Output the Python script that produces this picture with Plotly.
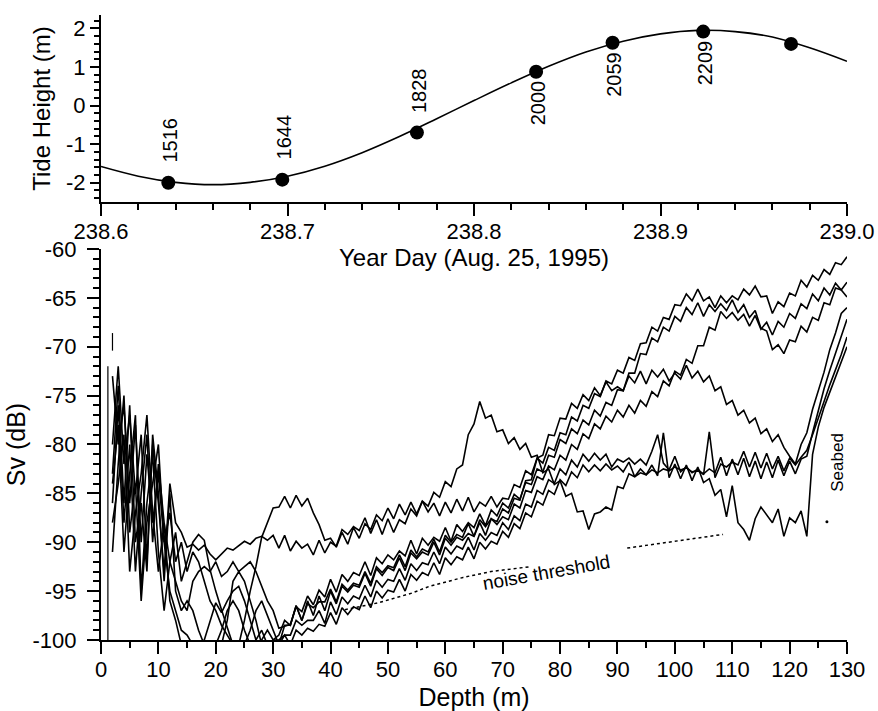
import plotly.graph_objects as go

# ---------------- Tide (top panel) ----------------
tide_day = [238.60, 238.62, 238.64, 238.66, 238.68, 238.70, 238.72, 238.74, 238.76, 238.78,
            238.80, 238.82, 238.84, 238.86, 238.88, 238.90, 238.92, 238.94, 238.96, 238.98, 239.00]
tide_height = [-1.58, -1.83, -1.99, -2.05, -1.99, -1.83, -1.57, -1.22, -0.80, -0.34,
               0.13, 0.59, 1.02, 1.39, 1.67, 1.86, 1.95, 1.92, 1.78, 1.50, 1.15]

cast_day = [238.6361, 238.6972, 238.7694, 238.8333, 238.8743, 238.9229, 238.9700]
cast_height = [-2.00, -1.92, -0.70, 0.88, 1.63, 1.92, 1.60]
cast_label = ["1516", "1644", "1828", "2000", "2059", "2209", ""]
cast_label_side = ["above", "above", "above", "below", "below", "below", "above"]

tide_x_ticks = [238.6, 238.7, 238.8, 238.9, 239.0]
tide_x_text = ["238.6", "238.7", "238.8", "238.9", "239.0"]
tide_y_ticks = [-2, -1, 0, 1, 2]
tide_y_text = ["-2", "-1", "0", "1", "2"]

# ---------------- Sv profiles (bottom panel) ----------------
depth = list(range(2, 131))

sv_a = [-73, -80, -76, -86, -78, -90, -81, -88, -83,
        -90, -87, -92, -90, -93, -91, -92, -94, -96, -97,
        -98.5, -99.5, -100.5, -100.5, -98, -95, -92.5, -89.5, -88, -86.5,
        -86.4, -85.3, -86.5, -85.2, -86.3, -85.5, -87, -88.2, -89.8, -89.6,
        -90.5, -89, -90.2, -88.5, -89.6, -88.1, -88.7, -87.2, -87.8, -86.5,
        -87.6, -86.1, -87.2, -85.9, -87.1, -85.8, -86.9, -86, -87.3, -85.9,
        -87, -85.6, -86.8, -85.4, -86.9, -85.9, -86.3, -85.3, -86.4, -85.5,
        -85.6, -84.1, -84.4, -82.7, -83.1, -81.4, -81.9, -80.3, -80.6, -78.8,
        -79, -77.2, -77.6, -76, -76.3, -74.8, -75.1, -73.5, -73.8, -72.4,
        -72.7, -71.1, -71.4, -69.7, -69.6, -68, -68.4, -67, -67.2, -65.7,
        -65.8, -64.6, -65.3, -64.1, -65.3, -64.9, -66, -64.8, -65.5, -64.8,
        -65.2, -64.1, -64.7, -63.8, -64.9, -64.8, -66.6, -65.4, -65.9, -64.5,
        -64.8, -63.2, -63.9, -62.7, -63.2, -62.1, -62.6, -61.4, -61.6, -60.8]

sv_b = [-86, -76, -88, -80, -93, -85, -79, -90, -82,
        -88, -92, -94, -96, -97, -94, -93, -92.5, -93, -92,
        -93.5, -93, -92, -93, -92.5, -92, -93, -94.5, -96, -97,
        -98.8, -98.6, -98.4, -96.6, -97.1, -95.5, -96.4, -94.9, -95.6, -93.8,
        -95.1, -93.3, -94, -93.1, -93.4, -92, -93.4, -91.6, -92.2, -91.3,
        -91.8, -90.9, -91.4, -89.8, -91.2, -89.6, -90.3, -89.5, -89.9, -88.5,
        -89.9, -88.2, -88.9, -88, -88.5, -87.1, -88.3, -86.7, -87.3, -86,
        -86.5, -85.1, -85.6, -83.9, -84.1, -82.5, -82.8, -81.1, -81.3, -79.5,
        -79.9, -78.4, -78.9, -77.5, -78, -76.5, -77.1, -75.7, -76, -74.4,
        -74.5, -72.7, -72.7, -70.7, -70.8, -69.1, -69.5, -68, -68.4, -66.9,
        -67.4, -66, -66.7, -65.5, -66.9, -65.7, -66.4, -65.6, -66.3, -65.2,
        -66.5, -65.7, -67, -66.3, -68.1, -68.4, -70.3, -69.8, -70.7, -69.3,
        -69.5, -67.9, -68.5, -67, -67.3, -65.5, -65.7, -64, -64.2, -64.9]

sv_c = [-84, -78, -91, -83, -77, -95, -86, -81, -91,
        -97, -92, -89, -94, -92, -90, -89.2, -89.8, -92.8, -95,
        -96.9, -98.6, -100.5, -100.5, -100.5, -99, -97, -96, -97.5, -99,
        -100.5, -98.5, -98.5, -96.5, -98, -96, -97.5, -95.5, -97, -95,
        -96.3, -94.5, -95.1, -94.4, -94.6, -93.2, -94.5, -92.7, -93.4, -92.6,
        -92.9, -91.6, -92.9, -91.1, -91.7, -91, -91.3, -90, -91.3, -89.6,
        -90.3, -89.5, -89.8, -89.1, -89.4, -88, -89.3, -87.6, -88.2, -87.4,
        -87.7, -86.1, -86.5, -84.7, -84.9, -83.3, -83.6, -82.2, -82.6, -81.1,
        -81.6, -80, -80.5, -78.9, -79.4, -77.9, -78.4, -77.1, -77.7, -76.5,
        -77.2, -76, -76.8, -75.5, -76.1, -74.6, -75.1, -73.5, -74, -72.5,
        -72.9, -71.3, -71.7, -69.9, -69.9, -68, -68.3, -66.4, -67.1, -66.5,
        -67.3, -66.7, -67.9, -66.8, -68.2, -67.5, -68.8, -67.4, -68, -66.6,
        -67.1, -65.6, -66.1, -64.6, -65.3, -64, -64.7, -63.5, -64.2, -63.4]

sv_d = [-91, -82, -75, -89, -84, -96, -88, -84, -80,
        -90, -95, -97, -99, -99.5, -100.5, -100.5, -100.5, -100.5, -100.5,
        -100.5, -98, -94, -93, -94, -96, -98, -100.5, -100.5, -100,
        -99.5, -98, -98.5, -96.5, -98, -96.3, -96.7, -96.1, -96.1, -94.8,
        -96.1, -94.3, -94.9, -94.2, -94.4, -93, -94.2, -92.5, -93.1, -92.4,
        -92.6, -91.3, -92.5, -90.8, -91.5, -90.7, -91, -89.7, -91, -89.3,
        -90, -89.2, -89.5, -88.1, -89.4, -87.7, -88.4, -87.6, -87.9, -86.6,
        -87, -85.5, -85.7, -83.7, -83.6, -81.4, -81.1, -79, -79.1, -77.3,
        -77.4, -75.8, -76.3, -74.9, -75.5, -74.2, -75, -73.6, -74.5, -74.1,
        -74.5, -73, -73.7, -72.5, -73.8, -72.4, -73.1, -72.3, -73.5, -72.7,
        -73.3, -71.9, -73.2, -72.5, -73.6, -73, -74.5, -74.1, -75.9, -75.5,
        -77, -76.5, -77.8, -77.3, -78.9, -78.4, -79.7, -79, -80.3, -81.2,
        -82, -80, -78.8, -76.4, -74.4, -72.6, -70.3, -68.6, -66.6, -66]

sv_e = [-80, -72, -82, -77, -85, -79, -92, -80, -86,
        -93, -84, -88, -89, -90.5, -90.2, -90.8, -90.3, -91.2, -91.8,
        -91.2, -90.6, -90.8, -90.3, -89.9, -90.2, -89.6, -89.4, -89.8, -89.3,
        -90.6, -89.3, -90.9, -89.9, -90.6, -90.2, -91.3, -89.8, -91.1, -90,
        -90.4, -88.7, -89.2, -88.4, -88.8, -87.5, -89.1, -87.7, -89.2, -87.6,
        -89, -87.7, -88.1, -86.6, -87.3, -85.8, -86.3, -84.9, -85.4, -83.8,
        -84.3, -82.5, -82.1, -79, -77.9, -75.6, -77.3, -77, -78.7, -78.5,
        -79.9, -79.3, -80.5, -79.9, -81.3, -81.1, -82.9, -82.5, -84.1, -83.7,
        -85.3, -85, -86.9, -86.8, -88.7, -87.1, -86.9, -86.4, -86.7, -84.3,
        -84.5, -83, -83.3, -82.9, -83.1, -82.6, -82.9, -82.5, -82.7, -82.3,
        -82.6, -82.4, -82.8, -82.7, -83, -82.5, -82.9, -81.3, -83.2, -81.5,
        -83.1, -81.4, -83.3, -81.7, -83.5, -81.8, -83.4, -81.6, -83.2, -81.7,
        -83, -81.5, -81.2, -78.8, -76.5, -74.3, -72.4, -70.6, -68.9, -67.2]

sv_f = [-88, -84, -79, -93, -87, -83, -77, -87, -93,
        -88, -96, -98, -100.5, -100.5, -100.5, -100.5, -100, -98, -96.2,
        -97.2, -96, -95, -94.5, -96, -98, -100, -99, -100.5, -100,
        -100, -99.5, -99.5, -98, -98.5, -98, -98, -97, -98.3, -96.1,
        -97.4, -95.6, -96.3, -95.5, -95.8, -94.4, -95.6, -93.9, -94.6, -93.8,
        -94, -92.7, -93.9, -92.2, -92.9, -92.1, -92.3, -91, -92.2, -90.5,
        -91.2, -90.4, -90.7, -89.5, -90.8, -89.1, -89.8, -89, -89.3, -88,
        -88.7, -87.3, -87.8, -86.1, -86.4, -84.7, -85.1, -83.6, -84, -82.5,
        -83.1, -81.6, -82.3, -81, -81.7, -80.9, -81.6, -81, -82.3, -81.5,
        -81.8, -81.4, -82, -81.5, -82.1, -80.7, -79, -81.9, -82.6, -81.2,
        -82.8, -82.3, -82.9, -82.5, -83.1, -78.7, -83.4, -82, -82.3, -81.8,
        -82.1, -80.7, -82.3, -80.8, -82.4, -80.9, -82.5, -81.2, -82.7, -81.4,
        -82.1, -81.3, -80.6, -79, -77.2, -75.6, -73.9, -72.4, -70.8, -69]

sv_g = [-83, -74, -86, -76, -90, -86, -93, -79, -85,
        -94, -85, -95, -97, -96, -97, -99, -100.5, -100.5, -100.5,
        -99, -97, -96, -97, -99, -100.5, -100.5, -100, -99, -100,
        -100.5, -99.5, -100.5, -99, -99.5, -98.8, -99.1, -98.4, -98.6, -97.2,
        -98.4, -96.7, -97.4, -96.6, -96.9, -95.5, -96.7, -95, -95.7, -94.9,
        -95.1, -93.8, -95, -93.3, -93.9, -93.1, -93.4, -92.1, -93.3, -91.6,
        -92.3, -91.5, -91.8, -90.5, -91.7, -90, -90.7, -89.9, -90.2, -88.9,
        -89.5, -88.1, -88.6, -87, -87.4, -85.8, -86.2, -84.7, -85.1, -83.6,
        -84.2, -82.8, -83.4, -82.1, -82.8, -82.1, -82.7, -82, -82.6, -82.2,
        -82.8, -81.8, -83.3, -82.5, -83.1, -82.1, -83.2, -78.8, -83.4, -82,
        -83.5, -82.1, -83.7, -82.3, -83.9, -83.5, -85.2, -84.6, -87.4, -84.2,
        -88, -88.7, -89.8, -87.6, -86.4, -87.2, -88, -86.6, -89.4, -87.5,
        -88, -86.8, -89.4, -81, -78.2, -76.2, -74.6, -73, -71.5, -70]

profiles = [sv_a, sv_b, sv_c, sv_d, sv_e, sv_f, sv_g]
for p in profiles:
    assert len(p) == len(depth), len(p)

# near-surface vertical trace fragments
spike_depth = [1.2, 1.2, None, 2.0, 2.0]
spike_sv = [-100, -72, None, -68.6, -70.4]

# noise threshold (dotted)
noise_depth = [42.5, 48.3, 54.2, 57.3, 63.1, 68.0, 74.8, None, 91.7, 100.0, 108.4]
noise_sv = [-96.9, -96.2, -95.2, -94.5, -93.6, -93.0, -92.5, None, -90.6, -89.9, -89.2]
noise_dot_depth = [126.5]
noise_dot_sv = [-87.9]

depth_ticks = list(range(0, 131, 10))
depth_text = [str(v) for v in depth_ticks]
sv_ticks = [-100, -95, -90, -85, -80, -75, -70, -65, -60]
sv_text = ["-100", "-95", "-90", "-85", "-80", "-75", "-70", "-65", "-60"]

FONT = "Liberation Sans, Arial, Helvetica, sans-serif"
BLACK = "#000000"

fig = go.Figure()

# top panel
fig.add_trace(go.Scatter(x=tide_day, y=tide_height, mode="lines",
                         line=dict(color=BLACK, width=1.6, shape="spline"),
                         xaxis="x", yaxis="y", showlegend=False, hoverinfo="skip"))
fig.add_trace(go.Scatter(x=cast_day, y=cast_height, mode="markers",
                         marker=dict(color=BLACK, size=14),
                         xaxis="x", yaxis="y", showlegend=False))

# bottom panel
for p in profiles:
    fig.add_trace(go.Scatter(x=depth, y=p, mode="lines",
                             line=dict(color=BLACK, width=1.6),
                             xaxis="x2", yaxis="y2", showlegend=False))
fig.add_trace(go.Scatter(x=spike_depth, y=spike_sv, mode="lines",
                         line=dict(color=BLACK, width=1.2),
                         xaxis="x2", yaxis="y2", showlegend=False))
fig.add_trace(go.Scatter(x=noise_depth, y=noise_sv, mode="lines",
                         line=dict(color=BLACK, width=1.5, dash="dot"),
                         xaxis="x2", yaxis="y2", showlegend=False))
fig.add_trace(go.Scatter(x=noise_dot_depth, y=noise_dot_sv, mode="markers",
                         marker=dict(color=BLACK, size=3),
                         xaxis="x2", yaxis="y2", showlegend=False))

annotations = []
for d, h, lab, side in zip(cast_day, cast_height, cast_label, cast_label_side):
    if not lab:
        continue
    annotations.append(dict(
        x=d, y=h, xref="x", yref="y", text=lab, showarrow=False, textangle=-90,
        font=dict(family=FONT, size=20, color=BLACK),
        xanchor="center", yanchor="bottom" if side == "above" else "top",
        yshift=18 if side == "above" else -7, xshift=2))

annotations.append(dict(x=77.6, y=-93.1, xref="x2", yref="y2", text="noise threshold",
                        showarrow=False, textangle=-10,
                        font=dict(family=FONT, size=19, color=BLACK)))
annotations.append(dict(x=128.2, y=-81.8, xref="x2", yref="y2", text="Seabed",
                        showarrow=False, textangle=-90,
                        font=dict(family=FONT, size=17, color=BLACK)))

axis_common = dict(showgrid=False, zeroline=False, showline=True, linecolor=BLACK,
                   linewidth=2, ticks="outside", ticklen=12, tickwidth=2, tickcolor=BLACK,
                   tickfont=dict(family=FONT, size=22, color=BLACK), mirror=False,
                   automargin=False)

fig.update_layout(
    width=878, height=711,
    margin=dict(l=101, r=31, t=0, b=0),
    paper_bgcolor="white", plot_bgcolor="white",
    font=dict(family=FONT, color=BLACK),
    annotations=annotations,
    xaxis=dict(axis_common, domain=[0, 1], anchor="y", range=[238.6, 239.0],
               tickvals=tide_x_ticks, ticktext=tide_x_text, ticklabelstandoff=-3,
               minor=dict(dtick=0.02, tick0=238.6, ticks="outside", ticklen=6, tickwidth=1.5, tickcolor=BLACK),
               title=dict(text="Year Day (Aug. 25, 1995)", standoff=2,
                          font=dict(family=FONT, size=24, color=BLACK))),
    yaxis=dict(axis_common, domain=[0.7159, 0.9789], anchor="x", range=[-2.5, 2.35],
               ticklen=9, tickvals=tide_y_ticks, ticktext=tide_y_text, ticklabelstandoff=0,
               minor=dict(dtick=0.2, tick0=0, ticks="outside", ticklen=5, tickwidth=1.5, tickcolor=BLACK),
               title=dict(text="Tide Height (m)", standoff=9,
                          font=dict(family=FONT, size=24, color=BLACK))),
    xaxis2=dict(axis_common, domain=[0, 1], anchor="y2", range=[0, 130],
                tickvals=depth_ticks, ticktext=depth_text, ticklabelstandoff=-3,
                minor=dict(dtick=5, tick0=0, ticks="outside", ticklen=6, tickwidth=1.5, tickcolor=BLACK),
                title=dict(text="Depth (m)", standoff=7,
                           font=dict(family=FONT, size=25, color=BLACK))),
    yaxis2=dict(axis_common, domain=[0.0999, 0.6498], anchor="x2", range=[-100, -60],
                tickvals=sv_ticks, ticktext=sv_text, ticklabelstandoff=6,
                minor=dict(dtick=1, tick0=0, ticks="outside", ticklen=6, tickwidth=1.5, tickcolor=BLACK),
                title=dict(text="Sv (dB)", standoff=0,
                           font=dict(family=FONT, size=25, color=BLACK))),
)

fig.write_html("out.html")
